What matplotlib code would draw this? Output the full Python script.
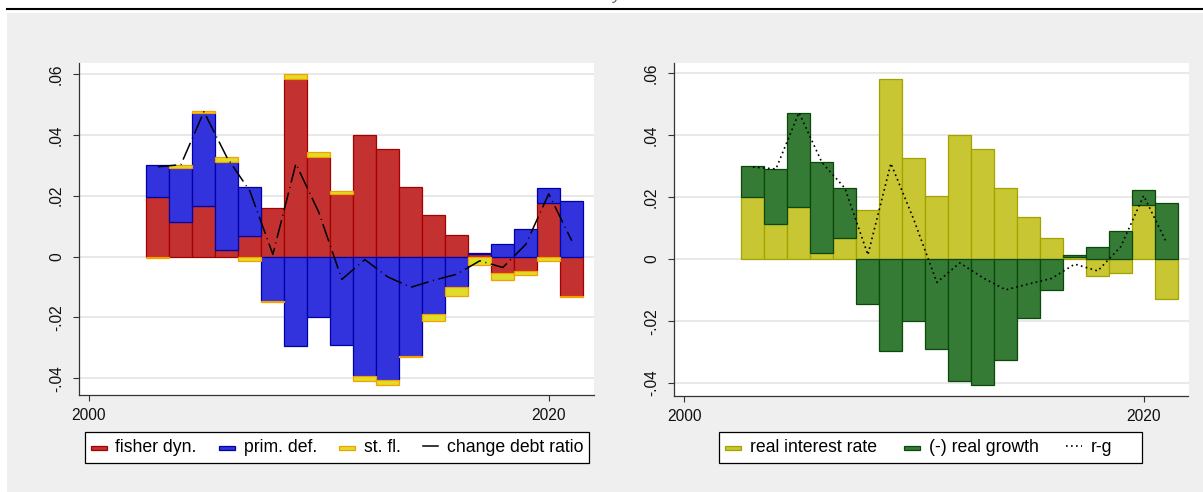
import numpy as np
import matplotlib.pyplot as plt
from matplotlib.patches import Patch, Rectangle
from matplotlib.lines import Line2D
from matplotlib.legend_handler import HandlerPatch

plt.rcParams['font.family'] = ['Liberation Sans', 'DejaVu Sans']

years = list(range(2003, 2022))

# left panel: decomposition of the change in the debt ratio
fisher_dyn = [0.0197, 0.0115, 0.0167, 0.0020, 0.0068, 0.0158, 0.0582, 0.0327, 0.0205, 0.0400,
              0.0355, 0.0230, 0.0137, 0.0070, 0.0008, -0.0055, -0.0047, 0.0175, -0.0131]
prim_def = [0.0103, 0.0176, 0.0306, 0.0292, 0.0161, -0.0146, -0.0295, -0.0200, -0.0291, -0.0394,
            -0.0407, -0.0326, -0.0189, -0.0099, 0.0005, 0.0041, 0.0091, 0.0049, 0.0181]
st_fl = [-0.0005, 0.0011, 0.0005, 0.0014, -0.0015, -0.0005, 0.0018, 0.0018, 0.0009, -0.0016,
         -0.0016, -0.0005, -0.0023, -0.0030, -0.0027, -0.0022, -0.0013, -0.0016, -0.0003]
debt_change = [0.0295, 0.0302, 0.0476, 0.0326, 0.0215, 0.0007, 0.0305, 0.0145, -0.0075, -0.0010,
               -0.0067, -0.0101, -0.0078, -0.0058, -0.0014, -0.0036, 0.0040, 0.0206, 0.0052]

# right panel: interest rate vs growth
real_rate = [0.0199, 0.0115, 0.0167, 0.0020, 0.0068, 0.0158, 0.0582, 0.0327, 0.0203, 0.0400,
             0.0355, 0.0230, 0.0137, 0.0068, 0.0008, -0.0055, -0.0046, 0.0175, -0.0130]
neg_growth = [0.0101, 0.0176, 0.0306, 0.0292, 0.0161, -0.0145, -0.0295, -0.0200, -0.0291, -0.0394,
              -0.0407, -0.0326, -0.0190, -0.0100, 0.0006, 0.0040, 0.0091, 0.0049, 0.0180]
r_minus_g = [0.0297, 0.0291, 0.0473, 0.0312, 0.0229, 0.0014, 0.0309, 0.0127, -0.0075, -0.0012,
             -0.0060, -0.0099, -0.0080, -0.0062, -0.0016, -0.0038, 0.0040, 0.0205, 0.0052]

yticks = [-0.04, -0.02, 0, 0.02, 0.04, 0.06]
ytick_labels = ['-.04', '-.02', '0', '.02', '.04', '.06']
xticks = [2000, 2020]

RED = ('#c43131', '#a30000')
BLUE = ('#3333dd', '#0000a8')
STFL = ('#e0dc2a', '#f5a000')
OLIVE = ('#c8c632', '#a3a300')
GREEN = ('#357a35', '#0b480b')

W, H = 1203, 492


def stack_bars(ax, series, colors):
    pos = np.zeros(len(years))
    neg = np.zeros(len(years))
    for vals, (fc, ec) in zip(series, colors):
        vals = np.asarray(vals)
        base = np.where(vals >= 0, pos, neg)
        ax.bar(years, vals, width=1.0, bottom=base, color=fc, edgecolor=ec,
               linewidth=0.9, zorder=2)
        pos = np.where(vals >= 0, pos + vals, pos)
        neg = np.where(vals < 0, neg + vals, neg)


def style_axes(ax, ylim):
    ax.set_facecolor('white')
    ax.set_xlim(1999.55, 2021.95)
    ax.set_ylim(*ylim)
    ax.set_xticks(xticks)
    ax.set_yticks(yticks, ytick_labels, rotation=90, va='center')
    ax.grid(axis='y', color='#e8e8e8', lw=1.4, zorder=0)
    ax.set_axisbelow(True)
    for s in ['top', 'right']:
        ax.spines[s].set_visible(False)
    for s in ['left', 'bottom']:
        ax.spines[s].set_color('#333333')
        ax.spines[s].set_linewidth(0.9)
    ax.tick_params(length=4, width=0.8, color='#333333', labelsize=11.2,
                   labelcolor='#111111')
    ax.tick_params(axis='y', pad=6.5)
    ax.tick_params(axis='x', pad=5.5)


def thin_patch(legend, orig_handle, xdescent, ydescent, width, height, fontsize):
    # flat key like stata's bar legend symbol
    return Rectangle((-xdescent, 0.1 * fontsize), width, 0.23 * fontsize)


def legend_box(fig, handles, labels, x0, x1, spacing):
    # white framed box in pixel coords, entries placed inside
    y0, y1 = 432.3, 462.7
    fig.patches.append(Rectangle((x0 / W, 1 - y1 / H), (x1 - x0) / W, (y1 - y0) / H,
                                 transform=fig.transFigure, facecolor='white',
                                 edgecolor='black', lw=0.9, zorder=-5))
    fig.legend(handles, labels, ncol=len(labels), loc='center left',
               bbox_to_anchor=((x0 + 6) / W, 1 - (y0 + y1) / 2 / H),
               bbox_transform=fig.transFigure, fontsize=12.7, frameon=False,
               handlelength=0.9, handletextpad=0.5,
               borderpad=0, borderaxespad=0, columnspacing=spacing,
               handler_map={Patch: HandlerPatch(patch_func=thin_patch)})


fig = plt.figure(figsize=(W / 100, H / 100), dpi=100, facecolor='white')

# graph region background and top rule
fig.patches.append(Rectangle((7 / W, 0), 1, 1 - 12.7 / H, transform=fig.transFigure,
                             facecolor='#efefef', edgecolor='none', zorder=-10))
fig.lines.append(Line2D([7 / W, 1], [1 - 9 / H, 1 - 9 / H], transform=fig.transFigure,
                        color='black', lw=1.5, zorder=-10))
fig.text(617 / W, 1.0, 'y', color='#666666', fontsize=12, style='italic',
         ha='center', va='baseline')

ax1 = fig.add_axes([78.6 / W, 1 - 395 / H, 515 / W, (395 - 62.7) / H])
ax2 = fig.add_axes([673.7 / W, 1 - 395.5 / H, 514.8 / W, (395.5 - 63) / H])

stack_bars(ax1, [fisher_dyn, prim_def, st_fl], [RED, BLUE, STFL])
ax1.plot(years, debt_change, color='black', lw=1.1, dashes=(12, 3, 0.7, 3), zorder=3)
style_axes(ax1, (-0.0455, 0.0637))

stack_bars(ax2, [real_rate, neg_growth], [OLIVE, GREEN])
ax2.plot(years, r_minus_g, color='black', lw=1.2, dashes=(1, 2), zorder=3)
style_axes(ax2, (-0.044, 0.0633))

h1 = [Patch(facecolor=RED[0], edgecolor=RED[1], lw=0.9),
      Patch(facecolor=BLUE[0], edgecolor=BLUE[1], lw=0.9),
      Patch(facecolor=STFL[0], edgecolor=STFL[1], lw=0.9),
      Line2D([], [], color='black', lw=1.1)]
legend_box(fig, h1, ['fisher dyn.', 'prim. def.', 'st. fl.', 'change debt ratio'],
           84.8, 588.6, 1.25)

h2 = [Patch(facecolor=OLIVE[0], edgecolor=OLIVE[1], lw=0.9),
      Patch(facecolor=GREEN[0], edgecolor=GREEN[1], lw=0.9),
      Line2D([], [], color='black', lw=1.2, dashes=(1, 2))]
legend_box(fig, h2, ['real interest rate', '(-) real growth', 'r-g'],
           719, 1141.7, 1.55)

fig.savefig('out.png', dpi=100, facecolor=fig.get_facecolor())
